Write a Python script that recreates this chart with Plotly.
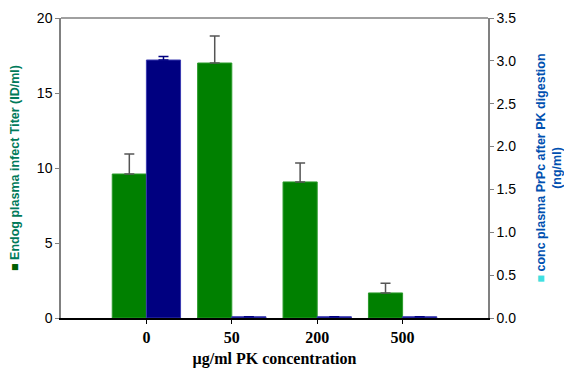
import plotly.graph_objects as go

categories = ["0", "50", "200", "500"]
x_pos = [1, 2, 3, 4]
titer = [9.6, 17.0, 9.07, 1.67]
titer_err = [1.33, 1.8, 1.27, 0.65]
prpc = [3.01, 0.015, 0.015, 0.015]
prpc_err = [0.04, 0.0, 0.0, 0.0]

fig = go.Figure()
fig.add_trace(go.Bar(
    x=x_pos, y=titer, width=0.4, offset=-0.4,
    marker=dict(color="#008000", line=dict(color="#2a9a2a", width=1)),
    error_y=dict(type="data", array=titer_err, arrayminus=[0]*4, symmetric=False,
                 color="#555555", thickness=1.5, width=5),
    yaxis="y", showlegend=False))
fig.add_trace(go.Bar(
    x=x_pos, y=prpc, width=0.4, offset=0.0,
    marker=dict(color="#000080", line=dict(color="#3a3ab0", width=1)),
    error_y=dict(type="data", array=prpc_err, arrayminus=[0]*4, symmetric=False,
                 color="#000080", thickness=1.5, width=5),
    yaxis="y2", showlegend=False))

fig.update_layout(
    width=564, height=371,
    margin=dict(l=61, r=76, t=18, b=53),
    plot_bgcolor="white", paper_bgcolor="white",
    font=dict(family="Liberation Sans, Arial", size=13, color="black"),
    xaxis=dict(range=[0, 5], tickvals=x_pos, ticktext=["<b>%s</b>" % c for c in categories],
               tickfont=dict(family="Liberation Serif", size=16, color="black"),
               showline=True, linecolor="black", linewidth=2,
               ticks="outside", ticklen=4, tickcolor="black",
               showgrid=False, zeroline=False, mirror=False, automargin=False,
               title=dict(text="<b>µg/ml PK concentration</b>",
                          font=dict(family="Liberation Serif", size=16, color="black"),
                          standoff=8)),
    yaxis=dict(range=[0, 20], tickvals=[0, 5, 10, 15, 20],
               showline=True, linecolor="#808080", linewidth=1.5,
               ticks="outside", ticklen=4, tickcolor="#808080",
               showgrid=False, zeroline=False, automargin=False,
               tickfont=dict(size=14),
               title=dict(text="<span style='color:#006000'>■</span> <b>Endog plasma infect Titer (ID/ml)</b>",
                          font=dict(size=12.5, color="#007a5a"), standoff=14)),
    yaxis2=dict(range=[0, 3.5], tickvals=[0, 0.5, 1, 1.5, 2, 2.5, 3, 3.5],
                ticktext=["0.0", "0.5", "1.0", "1.5", "2.0", "2.5", "3.0", "3.5"],
                overlaying="y", side="right",
                showline=True, linecolor="#808080", linewidth=1.5,
                ticks="outside", ticklen=4, tickcolor="#808080",
                showgrid=False, zeroline=False, automargin=False,
                tickfont=dict(size=14),
                title=dict(text="<span style='color:#40e0e0'>■</span> <b>conc plasma PrPc after PK digestion</b><br><b>(ng/ml)</b>",
                           font=dict(size=12.5, color="#0050b0"), standoff=22)),
    bargap=0.2,
)
fig.add_shape(type="line", xref="paper", yref="paper", x0=0, x1=1, y0=1, y1=1,
              line=dict(color="#808080", width=1.5))
fig.write_html("out.html")
